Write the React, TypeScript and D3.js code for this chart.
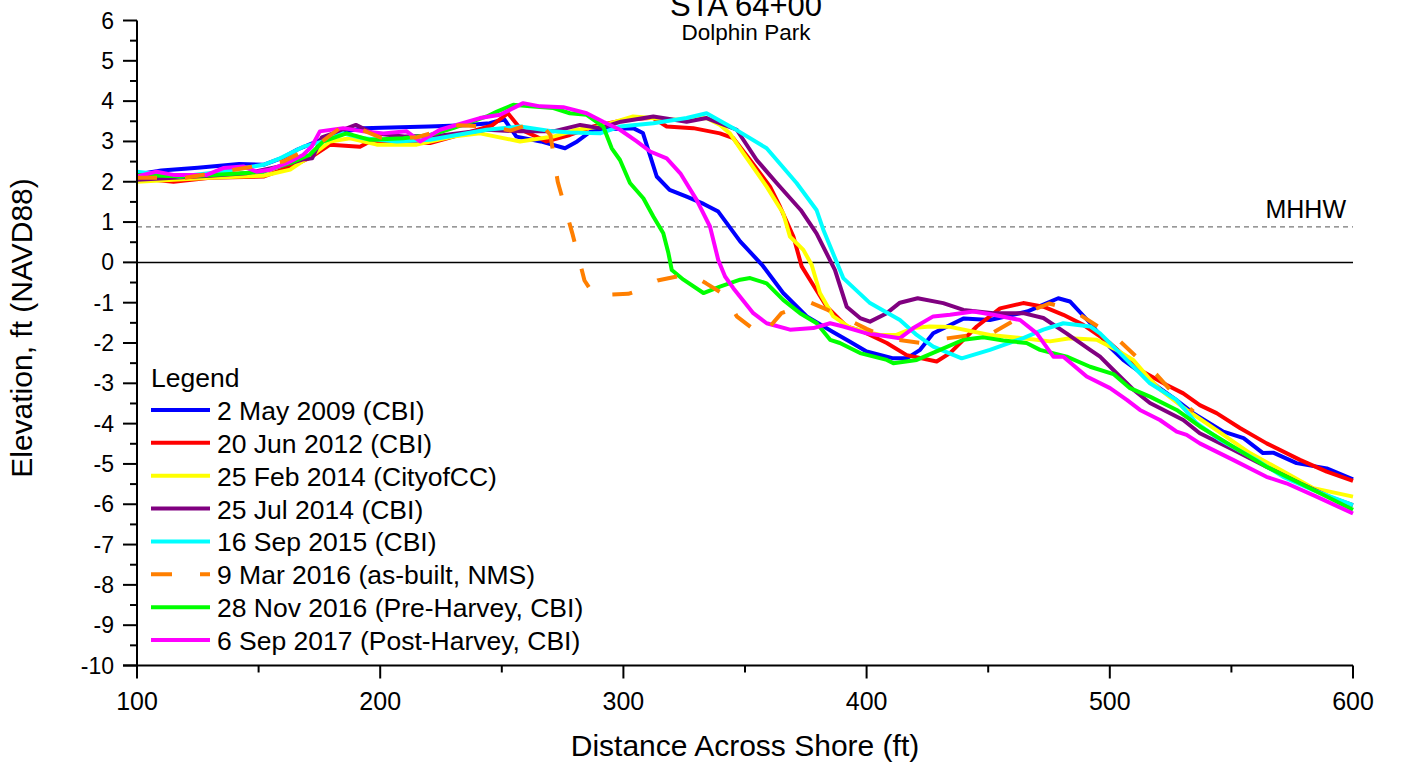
import React from "react";
import * as d3 from "d3";

type Pt = [number, number];

const seriesNames = [
  "2 May 2009 (CBI)",
  "20 Jun 2012 (CBI)",
  "25 Feb 2014 (CityofCC)",
  "25 Jul 2014 (CBI)",
  "16 Sep 2015 (CBI)",
  "9 Mar 2016 (as-built, NMS)",
  "28 Nov 2016 (Pre-Harvey, CBI)",
  "6 Sep 2017 (Post-Harvey, CBI)",
];
const seriesColors = ["#0000FF", "#FF0000", "#FFFF00", "#800080", "#00FFFF", "#FF7F00", "#00FF00", "#FF00FF"];
const dashedSeries = [false, false, false, false, false, true, false, false];

const may2009: Pt[] = [[100,2.18],[110,2.28],[125,2.35],[142,2.44],[152,2.42],[160,2.6],[166,2.8],[174,3.0],[182,3.2],[193,3.33],[220,3.37],[235,3.4],[245,3.45],[251,3.55],[256,3.12],[266,3.0],[276,2.83],[281,3.0],[287.5,3.29],[304,3.33],[308,3.21],[313.7,2.13],[319,1.8],[326,1.63],[333,1.45],[339,1.26],[348,0.52],[357,-0.06],[365.7,-0.76],[375.4,-1.34],[386,-1.72],[393,-1.96],[400,-2.21],[411,-2.38],[416.5,-2.38],[422,-2.17],[427.4,-1.76],[440,-1.39],[450.7,-1.43],[466,-1.22],[472.7,-1.05],[478.8,-0.89],[483.6,-0.97],[492,-1.51],[500,-2.1],[505.5,-2.42],[513,-2.75],[520,-3.1],[527,-3.4],[534.3,-3.74],[546.7,-4.2],[555,-4.36],[563,-4.73],[567.2,-4.72],[576.8,-4.98],[589.2,-5.11],[600,-5.38]];
const jun2012: Pt[] = [[100,2.09],[115,2.0],[130,2.1],[152,2.13],[162,2.35],[171,2.59],[179.4,2.92],[191.7,2.87],[195.8,3.0],[220.5,2.96],[235,3.2],[246,3.4],[252.5,3.7],[258,3.29],[268.4,3.0],[278,3.16],[287.5,3.37],[301,3.54],[312,3.59],[317.8,3.37],[328.7,3.33],[339.7,3.2],[345.2,3.08],[352.1,2.54],[360.3,1.88],[364.4,1.38],[369.9,0.64],[373.3,-0.1],[376.7,-0.43],[383.6,-1.1],[391.8,-1.59],[398.6,-1.72],[408.3,-2.0],[416.5,-2.3],[428.8,-2.46],[434.3,-2.25],[445.3,-1.59],[454.9,-1.14],[464.4,-1.01],[472.7,-1.1],[480.9,-1.3],[489.1,-1.55],[500,-2.0],[512.4,-2.67],[523.4,-3.04],[530.2,-3.25],[537,-3.54],[543.9,-3.74],[553.5,-4.11],[564.5,-4.49],[578.2,-4.9],[589.2,-5.19],[600,-5.42]];
const feb2014: Pt[] = [[100,2.0],[115,2.05],[130,2.1],[152,2.15],[163,2.3],[174,2.75],[179.4,3.0],[187.6,3.08],[198.6,2.92],[215,2.92],[220.5,3.0],[230,3.12],[241,3.2],[257.5,3.0],[271.2,3.12],[280.8,3.29],[290.4,3.37],[304,3.62],[320.5,3.54],[334.2,3.58],[339.7,3.41],[343.8,3.2],[349.3,2.71],[358.9,1.88],[365.7,1.22],[368.5,0.64],[374,0.31],[377.4,-0.06],[380.8,-0.76],[386.3,-1.34],[393.2,-1.62],[405.5,-1.8],[412.3,-1.8],[419.2,-1.63],[426,-1.59],[434.3,-1.6],[450.7,-1.8],[464.4,-1.88],[475.4,-1.96],[483.6,-1.88],[494.6,-1.92],[502.8,-2.17],[509.6,-2.42],[516.5,-2.9],[520.6,-3.15],[531.6,-3.66],[543.9,-4.16],[557.6,-4.73],[572.7,-5.23],[583.7,-5.6],[600,-5.81]];
const jul2014: Pt[] = [[100,2.05],[115,2.1],[130,2.15],[145,2.21],[160,2.4],[168,2.55],[172,2.58],[176,3.1],[183,3.25],[190,3.41],[197,3.2],[210,3.12],[225,3.15],[243.8,3.29],[257.5,3.25],[271.2,3.25],[282.2,3.41],[290.4,3.33],[299,3.49],[312.3,3.62],[326,3.49],[334.2,3.58],[346.6,3.29],[354.8,2.54],[363,1.97],[372.9,1.3],[379.4,0.72],[387,-0.19],[391.8,-1.1],[397.3,-1.38],[401.4,-1.47],[408.3,-1.26],[413.7,-1.0],[421,-0.89],[431.5,-1.01],[439.8,-1.18],[452.1,-1.26],[464.4,-1.26],[472.7,-1.38],[482.2,-1.76],[491.9,-2.17],[496,-2.34],[502.8,-2.75],[509.7,-3.16],[516.5,-3.49],[530.2,-3.91],[537,-4.24],[550.7,-4.65],[564.4,-5.07],[578.2,-5.48],[591.8,-5.85],[600,-6.02]];
const sep2015: Pt[] = [[100,2.25],[117.7,2.13],[135,2.25],[152,2.42],[158.8,2.58],[168.4,2.87],[176.6,3.0],[184.8,3.2],[193,3.08],[206.8,3.0],[220.5,3.04],[243.8,3.29],[257.5,3.37],[271.2,3.25],[278,3.22],[290.4,3.2],[298.6,3.37],[312.3,3.45],[326,3.58],[334.2,3.7],[345.2,3.33],[358.9,2.83],[371.2,1.97],[379.4,1.3],[382.2,0.81],[390.4,-0.39],[401.4,-1.01],[413.7,-1.43],[420.6,-1.8],[427.4,-2.09],[439.1,-2.38],[450.7,-2.17],[464.4,-1.88],[472.7,-1.67],[480.9,-1.51],[491.9,-1.59],[496,-1.76],[504.2,-2.25],[516.5,-3.0],[527.4,-3.41],[535.7,-3.99],[545.3,-4.4],[560.3,-4.9],[571.3,-5.32],[583.7,-5.65],[600,-6.02]];
const mar2016: Pt[] = [[100,2.1],[120,2.1],[140,2.3],[160,2.5],[175,2.95],[186,3.45],[192,3.3],[200,3.1],[215,3.1],[232,3.4],[245,3.37],[253.4,3.27],[265,3.5],[270,3.16],[273,2.0],[279,0.72],[284,-0.45],[288,-0.82],[302,-0.78],[306,-0.7],[314,-0.45],[322,-0.35],[327,-0.28],[334,-0.52],[342,-0.82],[346.6,-1.34],[357,-1.82],[365,-1.26],[372.6,-1.1],[377,-1.0],[384,-1.18],[391,-1.38],[400,-1.65],[410,-1.9],[422.6,-2.0],[431,-1.9],[444,-1.8],[451.4,-1.76],[462.4,-1.38],[468.5,-1.18],[475,-1.02],[480,-1.1],[487.7,-1.3],[498,-1.7],[504.2,-1.96],[513.8,-2.5],[519.3,-2.79],[528.2,-3.39],[534.4,-3.7]];
const nov2016: Pt[] = [[100,2.17],[120,2.13],[140,2.2],[152,2.25],[163,2.46],[171,2.67],[176.6,3.0],[186.2,3.2],[195.8,3.04],[209.5,3.08],[220.5,3.16],[230,3.33],[243.8,3.62],[248,3.74],[254.7,3.91],[261.6,3.87],[271.2,3.83],[278,3.7],[284.9,3.66],[291.7,3.37],[295.2,2.83],[298.6,2.54],[302.7,1.97],[308.2,1.59],[312.3,1.14],[316.4,0.72],[318.5,0.23],[319.9,-0.19],[324.7,-0.43],[332.9,-0.76],[339.7,-0.6],[348,-0.43],[352.1,-0.39],[358.9,-0.52],[365.7,-0.93],[372.6,-1.26],[379.5,-1.51],[385,-1.92],[389,-2.0],[397.3,-2.25],[408.3,-2.42],[411,-2.5],[420.6,-2.42],[430.2,-2.17],[439.8,-1.92],[448,-1.86],[456.2,-1.94],[465.8,-2.0],[471.3,-2.17],[482.3,-2.34],[491.9,-2.59],[501.5,-2.77],[508.3,-3.12],[516.5,-3.33],[527.5,-3.66],[537,-4.07],[550.7,-4.57],[564.4,-5.07],[578.2,-5.48],[591.8,-5.89],[600,-6.14]];
const sep2017: Pt[] = [[100,2.13],[108,2.25],[115,2.17],[128.7,2.17],[135.5,2.34],[143.7,2.38],[149.2,2.25],[154.7,2.3],[161.6,2.46],[168.4,2.67],[171.8,2.87],[175.2,3.25],[184.8,3.33],[193,3.25],[201.3,3.2],[210.9,3.25],[216.4,3.0],[224.6,3.29],[241,3.58],[249.3,3.66],[258.8,3.95],[265.7,3.87],[275.3,3.85],[284.9,3.7],[291.7,3.49],[298.6,3.29],[305.5,3.0],[311,2.75],[317.8,2.58],[323.4,2.21],[330.1,1.55],[335.6,0.89],[339,0.06],[341.8,-0.35],[345.2,-0.64],[353.4,-1.26],[358.9,-1.51],[368.5,-1.67],[378.1,-1.63],[385,-1.51],[390.4,-1.59],[400,-1.76],[413.7,-1.88],[419.2,-1.63],[427.4,-1.34],[434.3,-1.3],[443.9,-1.22],[452.1,-1.3],[463.1,-1.43],[470,-1.76],[476.8,-2.34],[480.9,-2.34],[490.5,-2.83],[500.1,-3.12],[507,-3.41],[512.4,-3.66],[520.6,-3.91],[527.5,-4.2],[531.6,-4.28],[537,-4.49],[550.7,-4.9],[564.4,-5.32],[572.6,-5.48],[585,-5.81],[600,-6.23]];

const seriesData: Pt[][] = [may2009, jun2012, feb2014, jul2014, sep2015, mar2016, nov2016, sep2017];
const drawOrder = [0, 1, 2, 3, 4, 6, 7, 5];

const xMajorTicks = [100, 200, 300, 400, 500, 600];
const xMinorTicks = [150, 250, 350, 450, 550];
const yMajorTicks = d3.range(-10, 7, 1);
const yMinorTicks = d3.range(-9.5, 6, 1);
const mhhwValue = 0.88;

const FONT = "'Liberation Sans', Arial, Helvetica, sans-serif";

export default function App() {
  const W = 1401, H = 769;
  const x = d3.scaleLinear().domain([100, 600]).range([137, 1353]);
  const y = d3.scaleLinear().domain([-10, 6]).range([665.5, 20.5]);
  const line = d3.line<Pt>().x(d => x(d[0])).y(d => y(d[1]));
  const x0 = x(100), x1 = x(600);
  const yBottom = y(-10), yTop = y(6);

  const legendX = 151;
  const legendLineLen = 59;
  const legendY0 = 410;
  const legendStep = 32.86;

  return (
    <svg width={W} height={H} style={{ position: "absolute", left: 0, top: 0, background: "#fff" }} fontFamily={FONT}>
      <rect x={0} y={0} width={W} height={H} fill="#fff" />
      {/* title */}
      <text x={746} y={16} textAnchor="middle" fontSize={31}>STA 64+00</text>
      <text x={746} y={40} textAnchor="middle" fontSize={22.5}>Dolphin Park</text>

      {/* reference lines */}
      <line x1={x0} x2={x1} y1={y(mhhwValue)} y2={y(mhhwValue)} stroke="#777" strokeWidth={1.2} strokeDasharray="5 4" />
      <text x={x1 - 7} y={y(mhhwValue) - 9} textAnchor="end" fontSize={25}>MHHW</text>
      <line x1={x0} x2={x1} y1={y(0)} y2={y(0)} stroke="#000" strokeWidth={1.5} />

      {/* data */}
      {drawOrder.map(i => (
        <path key={i} d={line(seriesData[i]) || ""} fill="none" stroke={seriesColors[i]} strokeWidth={4}
          strokeLinejoin="round" strokeDasharray={dashedSeries[i] ? "20 28" : undefined} />
      ))}

      {/* axes */}
      <line x1={x0} x2={x0} y1={yTop} y2={yBottom} stroke="#000" strokeWidth={2} />
      <line x1={x0 - 14} x2={x1} y1={yBottom} y2={yBottom} stroke="#000" strokeWidth={2} />
      {yMajorTicks.map(t => (
        <g key={"ym" + t}>
          <line x1={x0 - 14} x2={x0} y1={y(t)} y2={y(t)} stroke="#000" strokeWidth={2} />
          <text x={x0 - 23} y={y(t) + 8} textAnchor="end" fontSize={23}>{t}</text>
        </g>
      ))}
      {yMinorTicks.map(t => (
        <line key={"yn" + t} x1={x0 - 7} x2={x0} y1={y(t)} y2={y(t)} stroke="#000" strokeWidth={2} />
      ))}
      {xMajorTicks.map(t => (
        <g key={"xm" + t}>
          <line x1={x(t)} x2={x(t)} y1={yBottom} y2={yBottom + 13} stroke="#000" strokeWidth={2} />
          <text x={x(t)} y={710} textAnchor="middle" fontSize={25}>{t}</text>
        </g>
      ))}
      {xMinorTicks.map(t => (
        <line key={"xn" + t} x1={x(t)} x2={x(t)} y1={yBottom} y2={yBottom + 7} stroke="#000" strokeWidth={2} />
      ))}

      {/* axis titles */}
      <text x={745} y={756} textAnchor="middle" fontSize={30}>Distance Across Shore (ft)</text>
      <text transform={`translate(32,${328}) rotate(-90)`} textAnchor="middle" fontSize={30}>Elevation, ft (NAVD88)</text>

      {/* legend */}
      <text x={legendX} y={387} fontSize={26.5}>Legend</text>
      {seriesNames.map((n, i) => (
        <g key={"lg" + i}>
          <line x1={legendX} x2={legendX + legendLineLen} y1={legendY0 + i * legendStep} y2={legendY0 + i * legendStep}
            stroke={seriesColors[i]} strokeWidth={4} strokeDasharray={dashedSeries[i] ? "21 28" : undefined} />
          <text x={217} y={legendY0 + i * legendStep + 10} fontSize={26.5}>{n}</text>
        </g>
      ))}
    </svg>
  );
}
